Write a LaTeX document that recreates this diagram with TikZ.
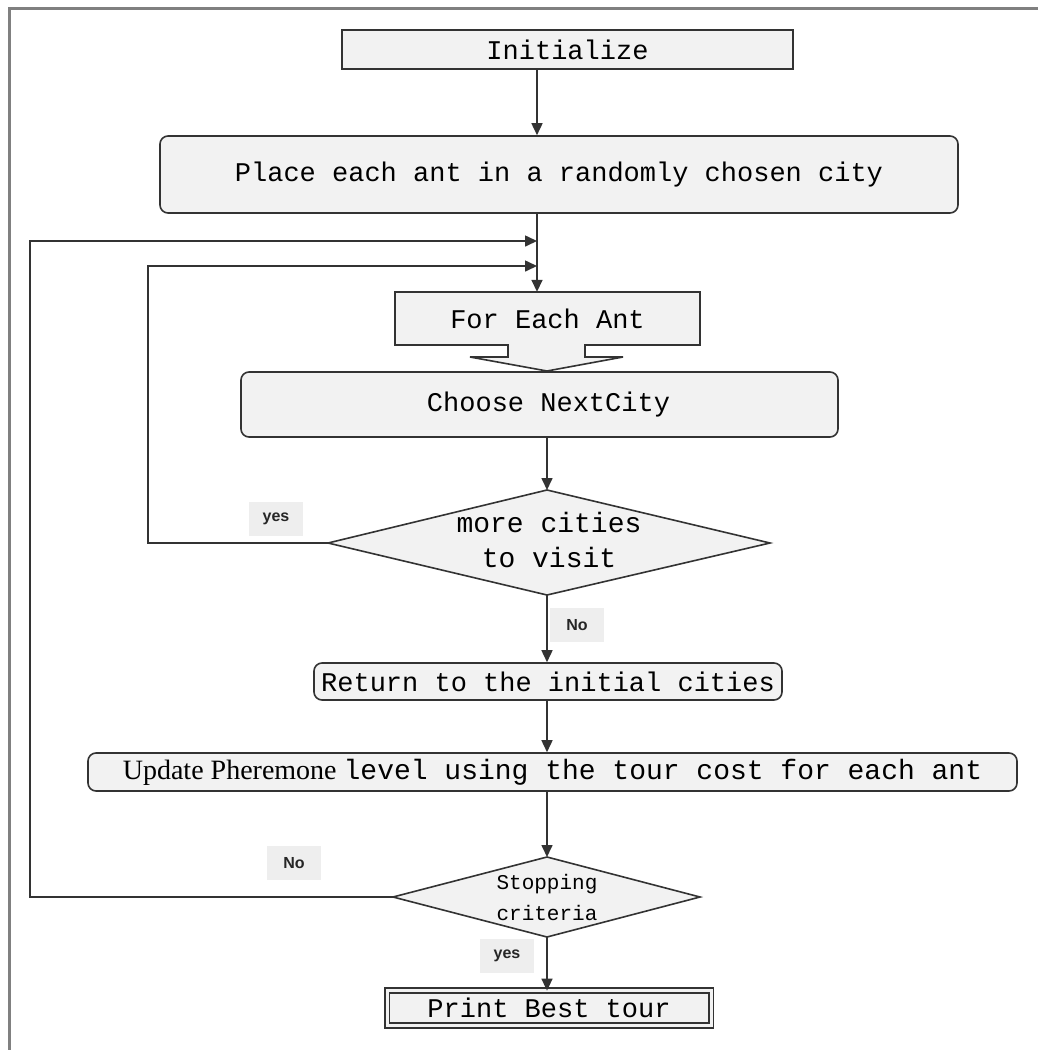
\documentclass[tikz,border=0pt]{standalone}
\usepackage{fontspec}
\setmainfont{Liberation Serif}
\setmonofont{Liberation Mono}
\newfontfamily\lsans{Liberation Sans}
\usetikzlibrary{arrows.meta}
\definecolor{boxfill}{HTML}{F2F2F2}
\definecolor{linec}{HTML}{333333}
\definecolor{labfill}{HTML}{EEEEEE}
\definecolor{framec}{HTML}{808080}
\tikzset{
  base/.style={draw=linec, line width=1.6pt, fill=boxfill, inner sep=0pt, text=black},
  rbox/.style={base, rounded corners=8pt},
  sbox/.style={base},
  mono/.style={font=\ttfamily\fontsize{27}{32}\selectfont},
  arr/.style={draw=linec, line width=1.6pt, -{Triangle[length=12pt,width=11pt]}},
  conn/.style={draw=linec, line width=1.6pt},
  lab/.style={fill=labfill, inner sep=0pt, minimum width=54pt, minimum height=34pt, font=\lsans\bfseries\fontsize{16}{18}\selectfont, text=black!85},
}
\begin{document}
\begin{tikzpicture}[x=1pt,y=-1pt]
\useasboundingbox (0,0) rectangle (1038,1050);
% frame
\draw[framec, line width=3pt] (9,1050) -- (9,8) -- (1038,8);
\coordinate (ta) at (537,0);
\coordinate (tb) at (547,0);
% nodes
\node[sbox, mono, minimum width=451pt, minimum height=39pt] (init) at (567.5,49.5) {Initialize};
\node[rbox, mono, minimum width=798pt, minimum height=77pt] (place) at (559,174.5) {Place each ant in a randomly chosen city};
% For each ant block-arrow box
\node[mono, inner sep=0pt, minimum width=305pt, minimum height=53pt] (fea) at (547.5,318.5) {};
\draw[base, line join=miter] (395,292) -- (700,292) -- (700,345) -- (585,345) -- (585,357) -- (623,357) -- (547,371) -- (470,357) -- (508,357) -- (508,345) -- (395,345) -- cycle;
\node[mono, text=black] at (547.5,318.5) {For Each Ant};
\node[rbox, mono, minimum width=597pt, minimum height=65pt] (choose) at (539.5,404.5) {\hspace*{18pt}Choose NextCity};
% diamond 1
\coordinate (d1n) at (547,490);
\coordinate (d1e) at (770,543);
\coordinate (d1s) at (547,595);
\coordinate (d1w) at (328,543);
\draw[base] (d1n) -- (d1e) -- (d1s) -- (d1w) -- cycle;
\node[font=\ttfamily\fontsize{28}{35}\selectfont, align=center, text=black] (d1) at (549,540) {more cities\\to visit};
\node[rbox, mono, minimum width=468pt, minimum height=37pt] (ret) at (548,681.5) {Return to the initial cities};
\node[rbox, minimum width=929pt, minimum height=38pt, font=\fontsize{28}{32}\selectfont] (upd) at (552.5,772) {Update Pheremone {\ttfamily level using the tour cost for each ant}};
% diamond 2
\coordinate (d2n) at (547,857);
\coordinate (d2e) at (700,897);
\coordinate (d2s) at (547,937);
\coordinate (d2w) at (393,897);
\draw[base] (d2n) -- (d2e) -- (d2s) -- (d2w) -- cycle;
\node[font=\ttfamily\fontsize{21}{31}\selectfont, align=center, text=black] (d2) at (547,897) {Stopping\\criteria};
\node[base, double=boxfill, double distance=3pt, line width=1.8pt, mono, minimum width=324pt, minimum height=35pt] (print) at (549,1008) {Print Best tour};
% labels
\node[lab] (yes1) at (276,519) {yes};
\node[lab] (no1) at (577,625) {No};
\node[lab] (no2) at (294,863) {No};
\node[lab] (yes2) at (507,956) {yes};
% connectors
\draw[arr] (init.south -| ta) -- (place.north -| ta);
\draw[arr] (place.south -| ta) -- (fea.north -| ta);
\coordinate (l1) at (148,0);
\coordinate (l2) at (30,0);
\coordinate (j1) at (537,266);
\coordinate (j2) at (537,241);
\draw[arr] (d1w) -- (d1w -| l1) -- (j1 -| l1) -- (j1);
\draw[arr] (d2w) -- (d2w -| l2) -- (j2 -| l2) -- (j2);
\draw[arr] (choose.south -| tb) -- (d1n);
\draw[arr] (d1s) -- (ret.north -| tb);
\draw[arr] (ret.south -| tb) -- (upd.north -| tb);
\draw[arr] (upd.south -| tb) -- (d2n);
\draw[arr] (d2s) -- ([yshift=-1pt]print.north -| tb);
\end{tikzpicture}
\end{document}
